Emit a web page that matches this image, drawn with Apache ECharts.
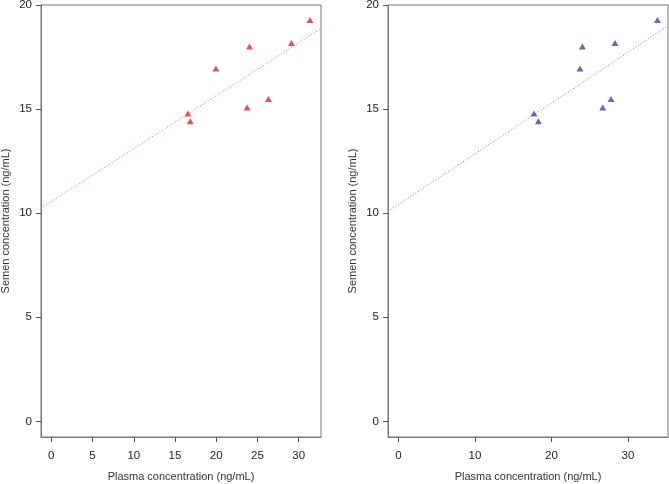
<!DOCTYPE html>
<html>
<head>
<meta charset="utf-8">
<script src="https://cdn.jsdelivr.net/npm/echarts@6/dist/echarts.min.js"></script>
<style>html,body{margin:0;padding:0;background:#fff}#c{width:669px;height:484px}</style>
</head>
<body>
<div id="c"></div>
<script>
// Left panel (red)
var leftX = [16.57, 16.85, 19.96, 24.03, 23.75, 26.33, 29.11, 31.37];
var leftY = [14.79, 14.42, 16.95, 18.01, 15.08, 15.48, 18.17, 19.28];
var leftTrendX = [-1.25, 32.7];
var leftTrendY = [10.24, 18.87];
var leftXTicks = [0, 5, 10, 15, 20, 25, 30];
// Right panel (blue)
var rightX = [17.73, 18.30, 23.74, 24.05, 26.71, 27.79, 28.31, 33.86];
var rightY = [14.79, 14.42, 16.95, 18.01, 15.08, 15.48, 18.17, 19.28];
var rightTrendX = [-1.36, 35.24];
var rightTrendY = [10.08, 19.0];
var rightXTicks = [0, 10, 20, 30];
var yTicks = [0, 5, 10, 15, 20];
var xTitle = 'Plasma concentration (ng/mL)';
var yTitle = 'Semen concentration (ng/mL)';

function zip(a, b) { return a.map(function (v, i) { return [v, b[i]]; }); }

var font = 'Liberation Sans, Arial, Helvetica, sans-serif';
var labelStyle = { color: '#333', fontSize: 11, fontFamily: font };
var tickLabelStyle = { color: '#222', fontSize: 11.5, fontFamily: font };

function xAxis(idx, min, max, ticks) {
  return {
    gridIndex: idx, type: 'value', min: min, max: max,
    name: xTitle, nameLocation: 'middle', nameGap: 34,
    nameTextStyle: labelStyle,
    splitLine: { show: false },
    axisLine: { show: true, onZero: false, lineStyle: { color: '#777', width: 1 } },
    axisTick: { show: true, inside: false, length: 5, lineStyle: { color: '#555' }, customValues: ticks },
    axisLabel: Object.assign({ margin: 13, customValues: ticks }, tickLabelStyle)
  };
}
function yAxis(idx) {
  return {
    gridIndex: idx, type: 'value', min: -0.75, max: 20,
    name: yTitle, nameLocation: 'middle', nameGap: 30,
    nameTextStyle: labelStyle,
    splitLine: { show: false },
    axisLine: { show: true, onZero: false, lineStyle: { color: '#777', width: 1 } },
    axisTick: { show: true, inside: false, length: 5, lineStyle: { color: '#555' }, customValues: yTicks },
    axisLabel: Object.assign({ margin: 9, customValues: yTicks }, tickLabelStyle)
  };
}

var chart = echarts.init(document.getElementById('c'), null, { renderer: 'canvas' });
chart.setOption({
  animation: false,
  backgroundColor: '#fff',
  grid: [
    { left: 41, top: 5, width: 280, height: 432, show: true, borderColor: '#777', borderWidth: 1, containLabel: false, outerBoundsMode: 'none' },
    { left: 388, top: 5, width: 280, height: 432, show: true, borderColor: '#777', borderWidth: 1, containLabel: false, outerBoundsMode: 'none' }
  ],
  xAxis: [xAxis(0, -1.25, 32.7, leftXTicks), xAxis(1, -1.36, 35.24, rightXTicks)],
  yAxis: [yAxis(0), yAxis(1)],
  series: [
    { type: 'line', xAxisIndex: 0, yAxisIndex: 0, data: zip(leftTrendX, leftTrendY), symbol: 'none',
      lineStyle: { color: '#e06a6e', width: 1, type: [1, 2] }, clip: true, z: 1 },
    { type: 'scatter', xAxisIndex: 0, yAxisIndex: 0, data: zip(leftX, leftY), symbol: 'triangle',
      symbolSize: [7, 6], itemStyle: { color: '#d42a2e' }, z: 2 },
    { type: 'line', xAxisIndex: 1, yAxisIndex: 1, data: zip(rightTrendX, rightTrendY), symbol: 'none',
      lineStyle: { color: '#7080a8', width: 1, type: [1, 2] }, clip: true, z: 1 },
    { type: 'scatter', xAxisIndex: 1, yAxisIndex: 1, data: zip(rightX, rightY), symbol: 'triangle',
      symbolSize: [7, 6], itemStyle: { color: '#3a4898' }, z: 2 }
  ]
});
</script>
</body>
</html>
